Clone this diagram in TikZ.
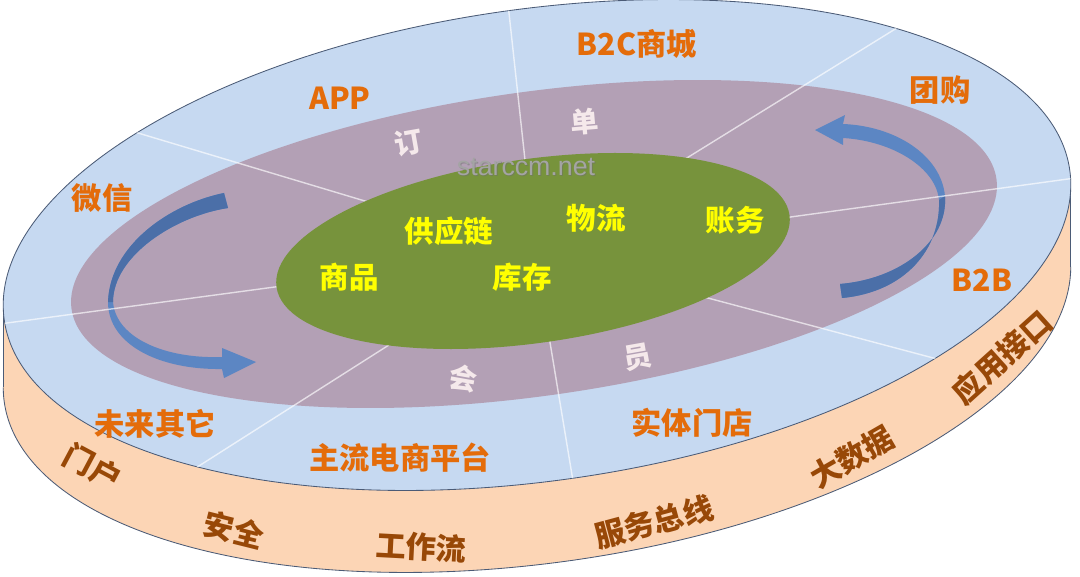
\documentclass[tikz,border=0pt]{standalone}
\usepackage{fontspec}
\usetikzlibrary{calc}
\newfontfamily\cjkfont{Noto Sans CJK SC}[BoldFont={Noto Sans CJK SC Black}]
\newfontfamily\wmfont{Liberation Sans}
\definecolor{topblue}{HTML}{C6D9F1}
\definecolor{bandfill}{HTML}{FCD5B5}
\definecolor{rimline}{HTML}{4B5B76}
\definecolor{ringfill}{HTML}{B3A0B5}
\definecolor{corefill}{HTML}{77933C}
\definecolor{arrowblue}{HTML}{5C86C3}
\definecolor{arrowdark}{HTML}{4B6FA8}
\definecolor{chantxt}{HTML}{E46C0A}
\definecolor{basetxt}{HTML}{984807}
\definecolor{proctxt}{HTML}{F5E9EB}
\definecolor{coretxt}{HTML}{FFFF00}
\definecolor{wmgray}{HTML}{A4A4A4}
\definecolor{wmshade}{HTML}{6E6E6E}

\begin{document}
\begin{tikzpicture}[x=0.025cm, y=-0.025cm,
    channel/.style={font=\cjkfont\bfseries\fontsize{21.5}{24}\selectfont, text=chantxt},
    process/.style={font=\cjkfont\bfseries\fontsize{20}{22}\selectfont, text=proctxt},
    core/.style={font=\cjkfont\bfseries\fontsize{21}{24}\selectfont, text=coretxt},
    base/.style={font=\cjkfont\bfseries\fontsize{21.5}{24}\selectfont, text=basetxt},
    watermark/.style={font=\wmfont\fontsize{19}{22}\selectfont},
    rim/.style={draw=rimline, line width=0.6pt},
    divider/.style={white, opacity=0.65, line width=1pt},
    ribbon/.style={fill=arrowblue},
    ribbonback/.style={fill=arrowdark}]
  \useasboundingbox (0,0) rectangle (1080,577);

  % side of the disc
  \begin{scope}[shift={(537,327)}, rotate=8]
    \coordinate (bl) at (183.53:538 and 236);
    \coordinate (br) at (3.53:538 and 236);
    \fill[bandfill] (0,0) ellipse [x radius=538, y radius=236];
  \end{scope}
  \begin{scope}[shift={(537,245)}, rotate=8]
    \coordinate (tl) at (183.53:538 and 236);
    \coordinate (tr) at (3.53:538 and 236);
  \end{scope}
  \fill[bandfill] (tl) -- (tr) -- (br) -- (bl) -- cycle;
  \begin{scope}[shift={(537,327)}, rotate=8]
    \draw[rim] (br) arc [start angle=3.53, end angle=183.53, x radius=538, y radius=236];
  \end{scope}
  \draw[rim] (tl) -- (bl);
  \draw[rim] (tr) -- (br);

  % top face
  \begin{scope}[shift={(537,245)}, rotate=8]
    \filldraw[fill=topblue, rim] (0,0) ellipse [x radius=538, y radius=236];
  \end{scope}
  \fill[ringfill, rotate around={8:(534,244)}] (534,244) ellipse [x radius=467, y radius=152];

  % arrows
  \fill[ribbon] (224,193) .. controls (170,204) and (110,245) .. (108,302)
    .. controls (108,345) and (160,370) .. (222,369)
    -- (224,378) -- (256,362) -- (222,348)
    -- (222,357) .. controls (165,359) and (116,338) .. (113,302)
    .. controls (113,256) and (175,216) .. (228,208) -- cycle;
  \fill[ribbonback] (224,193) .. controls (170,204) and (110,245) .. (108,302)
    -- (113,302) .. controls (113,256) and (175,216) .. (228,208) -- cycle;
  \fill[ribbon] (815,130) -- (845,115) -- (843,124)
    .. controls (895,126) and (941,155) .. (945,196)
    .. controls (948,242) and (900,279) .. (840,284) -- (842,298)
    .. controls (906,292) and (941,248) .. (939,200)
    .. controls (936,168) and (893,141) .. (843,138) -- (843,145) -- cycle;
  \fill[ribbonback] (945,196) .. controls (948,242) and (900,279) .. (840,284)
    -- (842,298) .. controls (906,292) and (941,248) .. (939,200) -- cycle;

  % dividers
  \coordinate (hub) at (535,252);
  \begin{scope}
    \clip[rotate around={8:(537,245)}] (537,245) ellipse [x radius=538, y radius=236];
    \foreach \ex/\ey in {138/133, 509/13, 892/31, 1068/179, 7/323, 191/471, 574/487, 937/359}
      \draw[divider] (hub) -- ($(hub)!1.05!(\ex,\ey)$);
  \end{scope}

  \fill[corefill, rotate around={8:(533,251)}] (533,251) ellipse [x radius=259, y radius=92];

  \node[watermark, text=wmshade, opacity=0.5] (markshade) at (527,168) {starccm.net};
  \node[watermark, text=wmgray] (markfront) at (526,167) {starccm.net};

  \node[channel] (app) at (340,98) {APP};
  \node[channel] (b2c) at (637,44) {B2C商城};
  \node[channel] (tuan) at (940,90) {团购};
  \node[channel] (weixin) at (102,198) {微信};
  \node[channel] (b2b) at (982,280) {B2B};
  \node[channel] (weilai) at (155,424) {未来其它};
  \node[channel] (zhuliu) at (400,458) {主流电商平台};
  \node[channel] (shiti) at (692,423) {实体门店};

  \node[process, rotate=10] (ding) at (408,143) {订};
  \node[process, rotate=5] (dan) at (585,122) {单};
  \node[process, rotate=-10] (hui) at (463,378) {会};
  \node[process, rotate=10] (yuan) at (638,357) {员};

  \node[core] (gongying) at (449,231) {供应链};
  \node[core] (wuliu) at (596,218) {物流};
  \node[core] (zhangwu) at (735,220) {账务};
  \node[core] (shangpin) at (349,277) {商品};
  \node[core] (kucun) at (522,277) {库存};

  \node[base, rotate=-28] (menhu) at (93,467) {门户};
  \node[base, rotate=-14] (anquan) at (234,530) {安全};
  \node[base, rotate=-3] (gongzuo) at (421,547) {工作流};
  \node[base, rotate=15] (fuwu) at (654,522) {服务总线};
  \node[base, rotate=30] (dashuju) at (852,457) {大数据};
  \node[base, rotate=42] (yingyong) at (1002,357) {应用接口};
\end{tikzpicture}
\end{document}
